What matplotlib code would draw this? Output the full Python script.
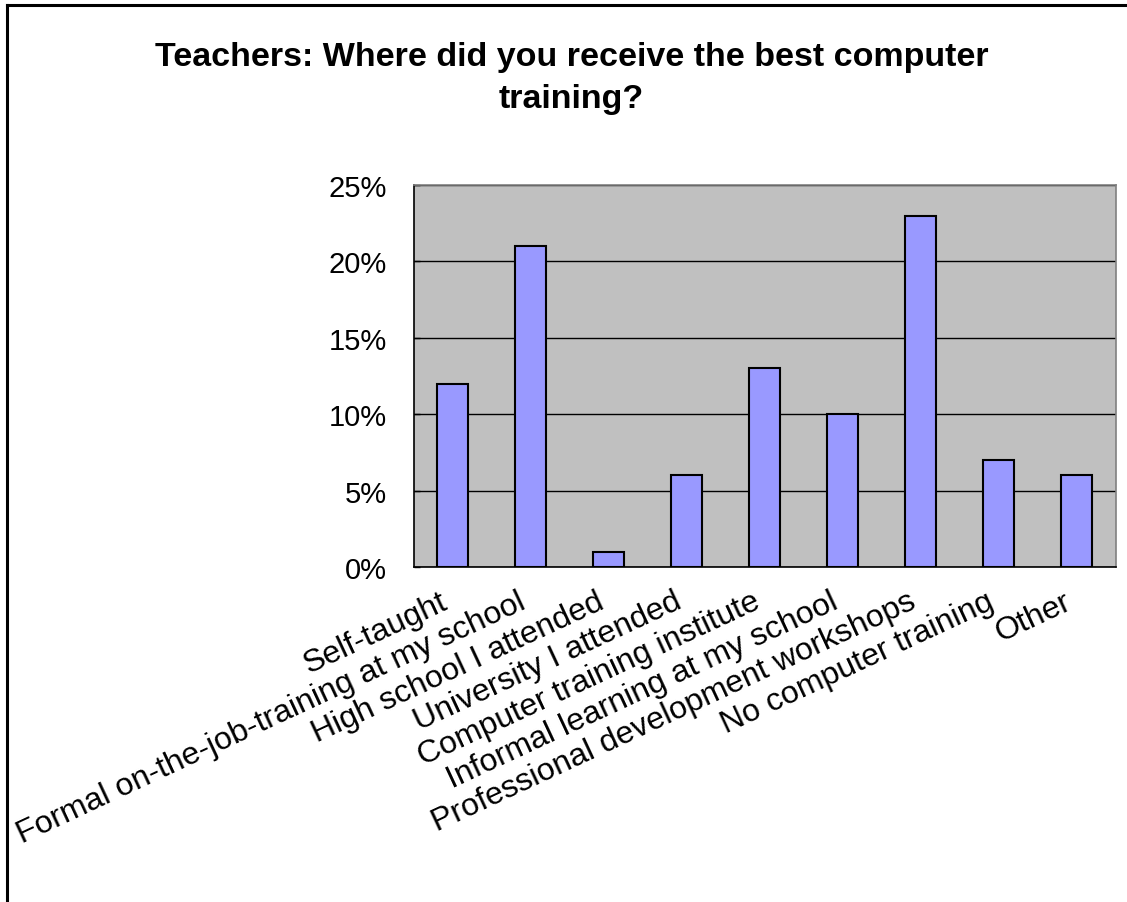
import matplotlib
matplotlib.use("Agg")
import matplotlib.pyplot as plt
from matplotlib.lines import Line2D
from matplotlib.ticker import FuncFormatter
from matplotlib.transforms import ScaledTranslation

plt.rcParams['font.family'] = ['Liberation Sans', 'DejaVu Sans']

categories = [
    "Self-taught",
    "Formal on-the-job-training at my school",
    "High school I attended",
    "University I attended",
    "Computer training institute",
    "Informal learning at my school",
    "Professional development workshops",
    "No computer training",
    "Other",
]
percent = [12, 21, 1, 6, 13, 10, 23, 7, 6]
y_ticks = [0, 5, 10, 15, 20, 25]

fig = plt.figure(figsize=(11.27, 9.03), dpi=100)
ax = fig.add_axes([0.367, 0.371, 0.623, 0.423])

# Plot area
ax.set_facecolor("#C0C0C0")
ax.set_axisbelow(True)
ax.yaxis.grid(True, color="black", linewidth=1.0)

x = range(len(categories))
ax.bar(x, percent, width=0.4, color="#9999FF", edgecolor="black", linewidth=1.5)

ax.set_xlim(-0.5, len(categories) - 0.5)
ax.set_ylim(0, 25)
ax.set_yticks(y_ticks)
ax.yaxis.set_major_formatter(FuncFormatter(lambda v, p: f"{v:.0f}%"))
ax.tick_params(axis="y", direction="in", length=4, width=1, pad=19, labelsize=21)
ax.tick_params(axis="x", length=0, pad=8, labelsize=23)

ax.set_xticks(list(x))
ax.set_xticklabels(categories, rotation=25, ha="right", va="top", rotation_mode="anchor")
shift = ScaledTranslation(-0.13, -0.08, fig.dpi_scale_trans)
for lbl in ax.get_xticklabels():
    lbl.set_transform(lbl.get_transform() + shift)

for side in ("left", "bottom"):
    ax.spines[side].set_color("black")
    ax.spines[side].set_linewidth(1.2)
for side in ("top", "right"):
    ax.spines[side].set_color("#808080")
    ax.spines[side].set_linewidth(1.2)

# Title
fig.text(0.507, 0.913, "Teachers: Where did you receive the best computer\ntraining?",
         ha="center", va="center", fontsize=24.5, fontweight="bold", linespacing=1.45)

# Chart border (top and left edges visible)
fig.add_artist(Line2D([0.006, 1.0], [0.993, 0.993], transform=fig.transFigure,
                      color="black", linewidth=2.2))
fig.add_artist(Line2D([0.006, 0.006], [0.0, 0.993], transform=fig.transFigure,
                      color="black", linewidth=2.2))

fig.savefig("out.png", dpi=100)
